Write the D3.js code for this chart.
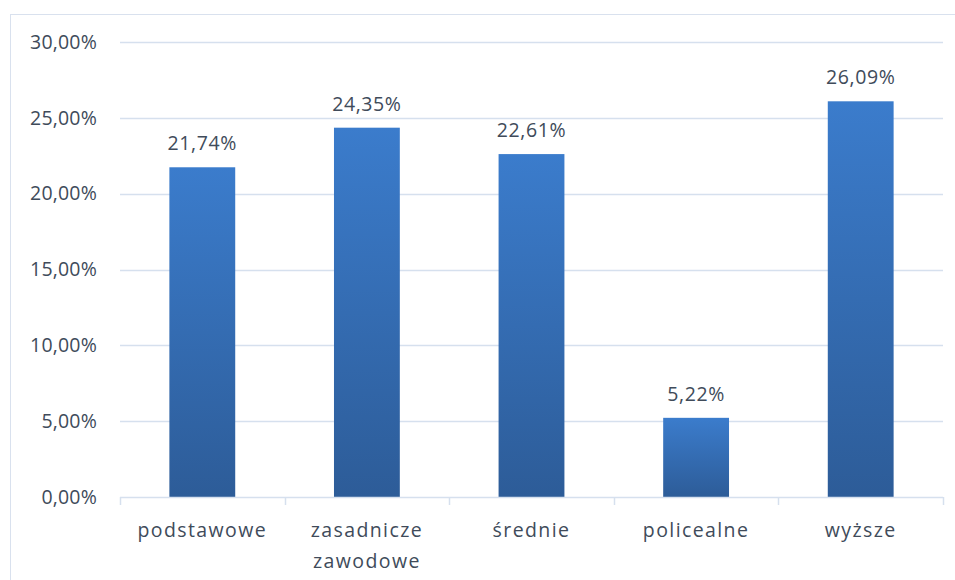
<!DOCTYPE html>
<html>
<head>
<meta charset="utf-8">
<script src="https://cdn.jsdelivr.net/npm/d3@7"></script>
<style>
  body { margin: 0; background: #fff; }
  text { font-family: "Open Sans", "Noto Sans", sans-serif; fill: #404b5a; font-size: 19.5px; }
</style>
</head>
<body>
<svg id="chart" width="955" height="580"></svg>
<script>
const categories = [["podstawowe"], ["zasadnicze", "zawodowe"], ["średnie"], ["policealne"], ["wyższe"]]
const values = [21.74, 24.35, 22.61, 5.22, 26.09]
const yTicks = [0, 5, 10, 15, 20, 25, 30]

const fmt = v => d3.format(".2f")(v).replace(".", ",") + "%"

const svg = d3.select("#chart")
const margin = {top: 42, right: 12, bottom: 83, left: 120}
const w = 955, h = 580

// chart frame
svg.append("rect")
  .attr("x", 10.5).attr("y", 14.5)
  .attr("width", 960).attr("height", 600)
  .attr("fill", "none").attr("stroke", "#d9e1ee")

const x = d3.scaleBand().domain(d3.range(values.length))
  .range([margin.left, w - margin.right]).paddingInner(0.6).paddingOuter(0.3)
const y = d3.scaleLinear().domain([0, 30]).range([h - margin.bottom, margin.top])

const defs = svg.append("defs")
const grad = defs.append("linearGradient").attr("id", "barGrad")
  .attr("x1", 0).attr("y1", 0).attr("x2", 0).attr("y2", 1)
grad.append("stop").attr("offset", "0%").attr("stop-color", "#3b7ccc")
grad.append("stop").attr("offset", "100%").attr("stop-color", "#2d5c98")

// gridlines
svg.append("g").selectAll("line")
  .data(yTicks.filter(d => d > 0))
  .enter().append("line")
    .attr("x1", margin.left).attr("x2", w - margin.right)
    .attr("y1", d => Math.round(y(d)) + 0.5).attr("y2", d => Math.round(y(d)) + 0.5)
    .attr("stroke", "#d6e0ee").attr("stroke-width", 1.5)

// y labels
svg.append("g").selectAll("text")
  .data(yTicks)
  .enter().append("text")
    .attr("x", 97).attr("y", d => y(d))
    .attr("dy", "0.35em").attr("text-anchor", "end")
    .style("letter-spacing", "0.2px")
    .text(fmt)

// bars
svg.append("g").selectAll("rect")
  .data(values)
  .enter().append("rect")
    .attr("x", (_, i) => x(i)).attr("width", x.bandwidth())
    .attr("y", d => y(d)).attr("height", d => y(0) - y(d))
    .attr("fill", "url(#barGrad)")

// value labels
svg.append("g").selectAll("text")
  .data(values)
  .enter().append("text")
    .attr("x", (_, i) => x(i) + x.bandwidth() / 2)
    .attr("y", d => y(d) - 17)
    .attr("text-anchor", "middle")
    .style("letter-spacing", "0.6px")
    .text(fmt)

// x axis line and ticks
const step = (w - margin.right - margin.left) / values.length
const axis = svg.append("g")
axis.append("line")
  .attr("x1", margin.left).attr("x2", w - margin.right)
  .attr("y1", y(0) + 0.5).attr("y2", y(0) + 0.5)
  .attr("stroke", "#d6e0ee").attr("stroke-width", 1.5)
axis.selectAll("line.tick")
  .data(d3.range(values.length + 1))
  .enter().append("line").classed("tick", true)
    .attr("x1", i => Math.round(margin.left + i * step) + 0.5)
    .attr("x2", i => Math.round(margin.left + i * step) + 0.5)
    .attr("y1", y(0)).attr("y2", y(0) + 8)
    .attr("stroke", "#d6e0ee").attr("stroke-width", 1.5)

// category labels
svg.append("g").selectAll("text")
  .data(categories)
  .enter().append("text")
    .attr("x", (_, i) => x(i) + x.bandwidth() / 2)
    .attr("y", y(0) + 40)
    .attr("text-anchor", "middle")
    .style("letter-spacing", "1.4px")
    .each(function(lines) {
      d3.select(this).selectAll("tspan")
        .data(lines)
        .enter().append("tspan")
          .attr("x", d3.select(this).attr("x"))
          .attr("dy", (_, j) => j ? "1.6em" : 0)
          .text(d => d)
    })
</script>
</body>
</html>
